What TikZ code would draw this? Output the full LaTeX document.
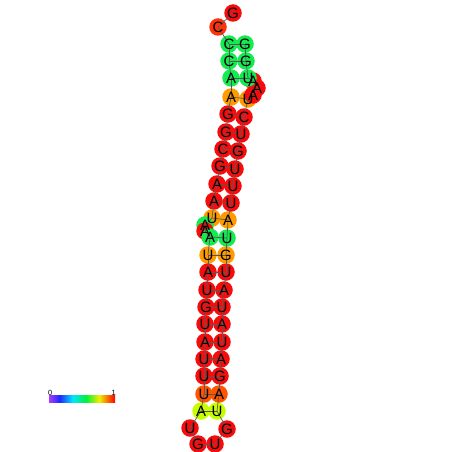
\documentclass[tikz,border=0pt]{standalone}
\usepackage{fontspec}
\setmainfont{Liberation Sans}
\definecolor{cR}{RGB}{245,12,12}
\definecolor{cG}{RGB}{20,235,80}
\definecolor{cO}{RGB}{255,155,0}
\definecolor{cD}{RGB}{255,85,0}
\definecolor{cC}{RGB}{255,50,10}
\definecolor{cY}{RGB}{200,255,0}
\definecolor{vpurple}{RGB}{170,60,255}
\definecolor{vblue}{RGB}{30,40,255}
\definecolor{vcyan}{RGB}{0,230,255}
\definecolor{vgreen}{RGB}{0,240,60}
\definecolor{vyellow}{RGB}{240,240,0}
\definecolor{vred}{RGB}{255,0,0}
\pgfdeclarehorizontalshading{rnabar}{100bp}{color(0bp)=(vpurple); color(25bp)=(vpurple); color(33bp)=(vblue); color(43bp)=(vcyan); color(53bp)=(vgreen); color(63bp)=(vyellow); color(75bp)=(vred); color(100bp)=(vred)}
\begin{document}
\begin{tikzpicture}[x=1pt,y=-1pt,
  nt/.style={circle,inner sep=0pt,minimum size=17.5pt,draw=none},
  lt/.style={inner sep=0pt,font=\fontsize{15}{15}\selectfont},
  bb/.style={draw=black!65,line width=0.7pt},
  bp/.style={draw=black!65,line width=0.7pt}]
\useasboundingbox (0,0) rectangle (452,452);
\fill[white] (0,0) rectangle (452,452);
% circles
\foreach \i/\x/\y/\c in {
 1/233/13/cR, 2/218/27/cC, 3/229/44/cG, 4/229/61/cG, 5/231/78/cG, 6/231/97/cO,
 7/228/114/cR, 8/226/132/cR, 9/223/149/cR, 10/220/166/cR, 11/217/184/cR, 12/214/201/cR,
 13/212/218/cO, 14/205/225/cG, 15/205/231/cR, 16/210/237/cG, 17/208/255/cO, 18/208/272/cR,
 19/207/290/cR, 20/206/307/cR, 21/205/324/cR, 22/205/342/cR, 23/204/359/cR, 24/204/376/cR,
 25/204/394/cD, 26/201/411/cY, 27/190/428/cR, 28/198/444/cR, 29/215/444/cR, 30/227/429/cR,
 31/217/411/cY, 32/219/394/cD, 33/220/376/cR, 34/221/359/cR, 35/222/342/cR, 36/222/324/cR,
 37/222/307/cR, 38/224/290/cR, 39/226/272/cR, 40/226/255/cO, 41/227/238/cG, 42/228/220/cO,
 43/231/203/cR, 44/233/186/cR, 45/235/169/cR, 46/238/151/cR, 47/241/134/cR, 48/244/117/cR,
 49/248/99/cO, 50/253/95/cR, 51/257/88/cR, 52/253/81/cR, 53/248/78/cG, 54/246/61/cG, 55/245/44/cG}
 {\node[nt,fill=\c] (n\i) at (\x,\y) {};}
% backbone
\foreach \a [evaluate=\a as \b using int(\a+1)] in {1,...,54}
 {\draw[bb] (n\a.center) -- (n\b.center);}
% base pairs
\foreach \a/\b in {3/55,4/54,5/53,6/49,7/48,8/47,9/46,10/45,11/44,12/43,13/42,16/41,
 17/40,18/39,19/38,20/37,21/36,22/35,23/34,24/33,25/32,26/31}
 {\draw[bp] (n\a.center) -- (n\b.center);}
% letters
\foreach \i/\l in {1/G,2/C,3/C,4/C,5/A,6/A,7/G,8/G,9/C,10/G,11/A,12/A,13/U,14/A,15/A,16/A,
 17/U,18/A,19/U,20/G,21/U,22/A,23/U,24/U,25/U,26/A,27/U,28/G,29/U,30/G,31/U,32/A,33/G,
 34/A,35/U,36/A,37/U,38/A,39/U,40/G,41/U,42/A,43/U,44/U,45/U,46/G,47/U,48/C,49/U,50/A,
 51/A,52/A,53/U,54/G,55/G}
 {\node[lt] (t\i) at (n\i) {\l};}
% colour bar
\node[inner sep=0pt,minimum width=66pt,minimum height=6.5pt,shading=rnabar] (bar) at (82,399) {};
\node[inner sep=0pt,font=\fontsize{7.5}{7.5}\selectfont,anchor=south] (l0) at (bar.north west) [xshift=1.5pt,yshift=-0.5pt] {0};
\node[inner sep=0pt,font=\fontsize{7.5}{7.5}\selectfont,anchor=south] (l1) at (bar.north east) [xshift=-1.5pt,yshift=-0.5pt] {1};
\end{tikzpicture}
\end{document}
